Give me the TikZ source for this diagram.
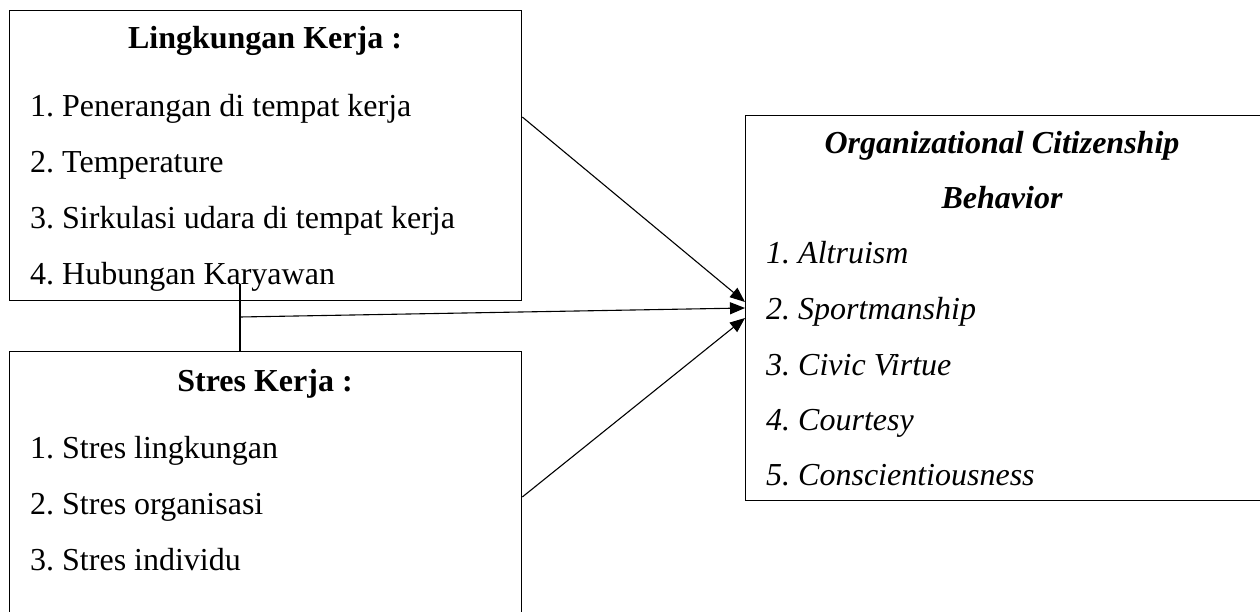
\documentclass[tikz,border=0pt]{standalone}
\usepackage{fontspec}
\setmainfont{Liberation Serif}
\usetikzlibrary{arrows.meta}
\frenchspacing
\begin{document}
\begin{tikzpicture}[x=1pt,y=-1pt,
  box/.style={draw, line width=1.3pt, rectangle, inner sep=0pt, anchor=north west},
  txt/.style={inner sep=0pt, anchor=base west, font=\fontsize{32}{38}\selectfont},
  itxt/.style={inner sep=0pt, anchor=base west, font=\fontsize{32}{38}\selectfont\itshape},
  ttl/.style={inner sep=0pt, anchor=base, font=\fontsize{32}{38}\selectfont\bfseries},
  ittl/.style={inner sep=0pt, anchor=base, font=\fontsize{32}{38}\selectfont\bfseries\itshape},
  arr/.style={line width=1.1pt, -{Triangle[length=15pt,width=12pt]}},
  lnk/.style={line width=1.1pt}]
\clip (0,0) rectangle (1260,612);
\fill[white] (0,0) rectangle (1260,612);
% boxes
\node[box, minimum width=512pt, minimum height=290pt] (lk) at (9,10) {};
\node[box, minimum width=512pt, minimum height=300pt] (sk) at (9,351) {};
\node[box, minimum width=540pt, minimum height=385pt] (ocb) at (745,115) {};
% texts box 1
\node[ttl] (lkt) at (265,49) {\frenchspacing Lingkungan Kerja :};
\node[txt] (lk1) at (30,117) {\frenchspacing 1. Penerangan di tempat kerja};
\node[txt] (lk2) at (30,173) {\frenchspacing 2. Temperature};
\node[txt] (lk3) at (30,229) {\frenchspacing 3. Sirkulasi udara di tempat kerja};
\node[txt] (lk4) at (30,284) {\frenchspacing 4. Hubungan Karyawan};
% texts box 2
\node[ttl] (skt) at (265,391) {\frenchspacing Stres Kerja :};
\node[txt] (sk1) at (30,458) {\frenchspacing 1. Stres lingkungan};
\node[txt] (sk2) at (30,514) {\frenchspacing 2. Stres organisasi};
\node[txt] (sk3) at (30,570) {\frenchspacing 3. Stres individu};
% texts box 3
\node[ittl] (ocbt1) at (1002,154) {Organizational Citizenship};
\node[ittl] (ocbt2) at (1002,209) {Behavior};
\node[itxt] (o1) at (766,264) {\frenchspacing 1. Altruism};
\node[itxt] (o2) at (766,319) {\frenchspacing 2. Sportmanship};
\node[itxt] (o3) at (766,375) {\frenchspacing 3. Civic Virtue};
\node[itxt] (o4) at (766,430) {\frenchspacing 4. Courtesy};
\node[itxt] (o5) at (766,485) {\frenchspacing 5. Conscientiousness};
% connectors
\coordinate (ja) at (240,284);
\coordinate (jm) at (240,317);
\draw[lnk] (ja) -- (ja |- sk.north);
\draw[arr] (lk.east |- 0,117) -- (ocb.west |- 0,302);
\draw[arr] (jm) -- (ocb.west |- 0,308);
\draw[arr] (sk.east |- 0,497) -- (ocb.west |- 0,318);
\end{tikzpicture}
\end{document}
